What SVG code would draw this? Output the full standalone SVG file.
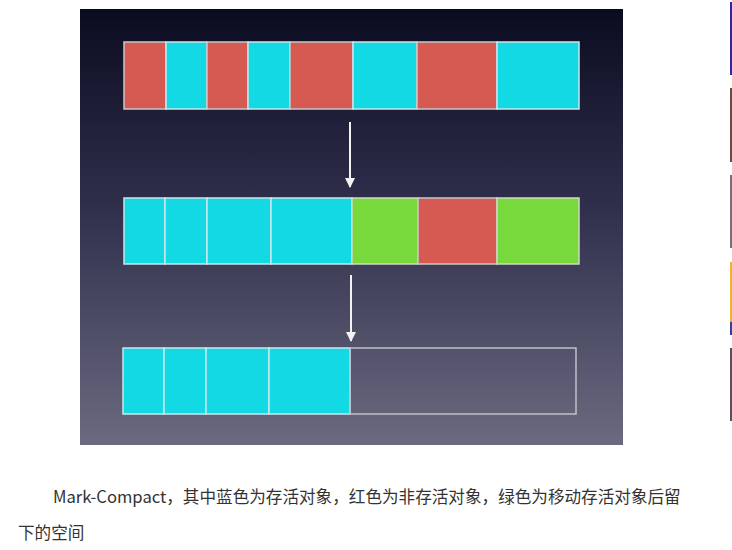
<svg xmlns="http://www.w3.org/2000/svg" width="732" height="550" viewBox="0 0 732 550">
<defs>
<linearGradient id="bg" x1="0" y1="0" x2="0" y2="1">
<stop offset="0" stop-color="#0b0b20"/>
<stop offset="0.45" stop-color="#2f2f4c"/>
<stop offset="1" stop-color="#6b6a80"/>
</linearGradient>
<marker id="ah" viewBox="0 0 10 10" refX="9" refY="5" markerWidth="5" markerHeight="5" orient="auto" markerUnits="strokeWidth">
<path d="M0,0 L10,5 L0,10 z" fill="#f2f2f2"/>
</marker>
<style>
.r{fill:#d75a52;stroke:#c8c8c8;stroke-width:1.5}
.c{fill:#12d9e3;stroke:#c8e8ec;stroke-width:1.5}
.g{fill:#77d93b;stroke:#d0d8c0;stroke-width:1.5}
.e{fill:none;stroke:#c0c0cc;stroke-width:1.5}
.a{stroke:#f2f2f2;stroke-width:2;fill:none}
.t{font-family:"Microsoft YaHei","Noto Sans CJK SC",sans-serif;font-size:16.6px;fill:#333333}
</style>
</defs>
<rect x="0" y="0" width="732" height="550" fill="#ffffff"/>
<rect id="panel" x="80" y="9" width="543" height="436" fill="url(#bg)"/>
<g id="row1">
<rect class="r" x="124" y="42" width="42" height="67"/>
<rect class="c" x="166" y="42" width="41" height="67"/>
<rect class="r" x="207" y="42" width="41" height="67"/>
<rect class="c" x="248" y="42" width="42" height="67"/>
<rect class="r" x="290" y="42" width="63" height="67"/>
<rect class="c" x="353" y="42" width="64" height="67"/>
<rect class="r" x="417" y="42" width="80" height="67"/>
<rect class="c" x="497" y="42" width="82" height="67"/>
</g>
<g id="row2">
<rect class="c" x="124" y="198" width="41" height="66"/>
<rect class="c" x="165" y="198" width="42" height="66"/>
<rect class="c" x="207" y="198" width="64" height="66"/>
<rect class="c" x="271" y="198" width="81" height="66"/>
<rect class="g" x="352" y="198" width="66" height="66"/>
<rect class="r" x="418" y="198" width="79" height="66"/>
<rect class="g" x="497" y="198" width="82" height="66"/>
</g>
<g id="row3">
<rect class="c" x="123" y="348" width="41" height="66"/>
<rect class="c" x="164" y="348" width="42" height="66"/>
<rect class="c" x="206" y="348" width="63" height="66"/>
<rect class="c" x="269" y="348" width="81" height="66"/>
<rect class="e" x="350" y="348" width="226" height="66"/>
</g>
<g id="connectors">
<line class="a" x1="350" y1="122" x2="350" y2="187" marker-end="url(#ah)"/>
<line class="a" x1="351" y1="275" x2="351" y2="341" marker-end="url(#ah)"/>
</g>
<g id="thumbs">
<rect x="730" y="2" width="2" height="73" fill="#2a2aa8"/>
<rect x="730" y="88" width="2" height="74" fill="#6a4a40"/>
<rect x="730" y="175" width="2" height="73" fill="#7a7070"/>
<rect x="730" y="262" width="2" height="60" fill="#f0b428"/>
<rect x="730" y="322" width="2" height="13" fill="#3040a0"/>
<rect x="730" y="348" width="2" height="73" fill="#5a5060"/>
</g>
<text class="t" x="53" y="503">Mark-Compact，其中蓝色为存活对象，红色为非存活对象，绿色为移动存活对象后留</text>
<text class="t" x="18" y="539">下的空间</text>
</svg>
